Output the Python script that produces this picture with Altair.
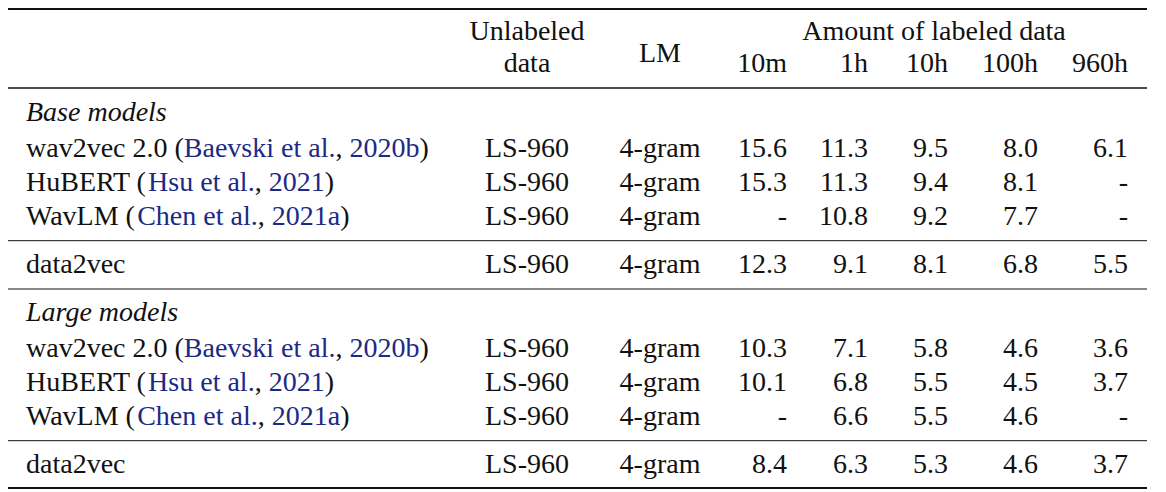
import altair as alt
import pandas as pd

# ---------------- data ----------------
section_titles = ["Base models", "Large models"]
methods = ["wav2vec 2.0", "HuBERT", "WavLM"]
cite_authors = ["Baevski et al.", "Hsu et al.", "Chen et al."]
cite_years = ["2020b", "2021", "2021a"]
ours_name = "data2vec"
unlabeled_name = "LS-960"
lm_name = "4-gram"
header_unlabeled = ["Unlabeled", "data"]
header_lm = "LM"
header_group = "Amount of labeled data"
labeled_cols = ["10m", "1h", "10h", "100h", "960h"]

base_values = [
    [15.6, 11.3, 9.5, 8.0, 6.1],
    [15.3, 11.3, 9.4, 8.1, None],
    [None, 10.8, 9.2, 7.7, None],
]
base_ours = [12.3, 9.1, 8.1, 6.8, 5.5]
large_values = [
    [10.3, 7.1, 5.8, 4.6, 3.6],
    [10.1, 6.8, 5.5, 4.5, 3.7],
    [None, 6.6, 5.5, 4.6, None],
]
large_ours = [8.4, 6.3, 5.3, 4.6, 3.7]

# ---------------- layout / style ----------------
FONT = "Liberation Serif"
FS = 28
BLACK = "#111111"
BLUE = "#1c2a86"
W, H = 1150, 484

X_METHOD = 18
X_UNLAB = 519
X_LM = 652
X_NUM = [779, 860, 940, 1030, 1120]
X_GROUP = 926
RULE_X0, RULE_X1 = 0, 1139

Y_HEAD1, Y_HEAD2, Y_LM = 32, 64, 54
SECTION_Y = [
    {"title": 113, "rows": [149, 183, 217], "ours": 265},
    {"title": 313, "rows": [349, 383, 417], "ours": 465},
]
RULES = [(1, 2.0), (80, 1.3), (232.7, 1.0), (281, 1.0), (432.7, 1.0), (480, 2.0)]

# Times / Liberation Serif advance widths (1/1000 em) for offset of coloured segments
TW = {" ": 250, "(": 333, ")": 333, ",": 250, ".": 250, "-": 333,
      "A": 722, "B": 667, "C": 667, "D": 722, "E": 611, "H": 722, "L": 611,
      "M": 889, "R": 667, "T": 611, "U": 722, "W": 944,
      "a": 444, "b": 500, "c": 444, "d": 500, "e": 444, "h": 500, "i": 278,
      "k": 500, "l": 278, "m": 778, "n": 500, "s": 389, "t": 278, "u": 500,
      "v": 500, "w": 722}


def text_width(s):
    return sum(TW.get(ch, 500) for ch in s) / 1000.0 * FS


def fmt(v):
    return "-" if v is None else f"{v:.1f}"


cells = []  # x, y, text, color, align, style


def add(x, y, text, color=BLACK, align="left", style="normal"):
    cells.append({"x": x, "y": y, "text": text, "color": color,
                  "align": align, "style": style})


# header
add(X_UNLAB, Y_HEAD1, header_unlabeled[0], align="center")
add(X_UNLAB, Y_HEAD2, header_unlabeled[1], align="center")
add(X_LM, Y_LM, header_lm, align="center")
add(X_GROUP, Y_HEAD1, header_group, align="center")
for xc, lab in zip(X_NUM, labeled_cols):
    add(xc, Y_HEAD2, lab, align="right")

for sec, title, vals, ours in zip(SECTION_Y, section_titles,
                                   [base_values, large_values],
                                   [base_ours, large_ours]):
    add(X_METHOD, sec["title"], title, style="italic")
    for y, m, au, yr, row in zip(sec["rows"], methods, cite_authors, cite_years, vals):
        segs = [(m + " (", BLACK), (au, BLUE), (", ", BLACK), (yr, BLUE), (")", BLACK)]
        x = X_METHOD
        for s, c in segs:
            add(x, y, s, color=c)
            x += text_width(s)
        add(X_UNLAB, y, unlabeled_name, align="center")
        add(X_LM, y, lm_name, align="center")
        for xc, v in zip(X_NUM, row):
            add(xc, y, fmt(v), align="right")
    y = sec["ours"]
    add(X_METHOD, y, ours_name)
    add(X_UNLAB, y, unlabeled_name, align="center")
    add(X_LM, y, lm_name, align="center")
    for xc, v in zip(X_NUM, ours):
        add(xc, y, fmt(v), align="right")

df = pd.DataFrame(cells)
rules_df = pd.DataFrame([{"y": y, "w": w, "x0": RULE_X0, "x1": RULE_X1} for y, w in RULES])


def text_layer(align, style):
    sub = df[(df["align"] == align) & (df["style"] == style)]
    kw = dict(font=FONT, fontSize=FS, align=align, baseline="alphabetic")
    if style == "italic":
        kw["fontStyle"] = "italic"
    return alt.Chart(sub).mark_text(**kw).encode(
        x=alt.X("x:Q", scale=None),
        y=alt.Y("y:Q", scale=None),
        text="text:N",
        color=alt.Color("color:N", scale=None),
    )


rules = alt.Chart(rules_df).mark_rule(color=BLACK).encode(
    x=alt.X("x0:Q", scale=None),
    x2="x1:Q",
    y=alt.Y("y:Q", scale=None),
    strokeWidth=alt.StrokeWidth("w:Q", scale=None),
)

chart = alt.layer(
    rules,
    text_layer("left", "normal"),
    text_layer("left", "italic"),
    text_layer("center", "normal"),
    text_layer("right", "normal"),
).properties(
    width=W, height=H, padding=0, autosize=alt.AutoSizeParams(type="none")
).configure_view(stroke=None)

chart.save("out.html", embed_options={"renderer": "svg", "actions": False})
